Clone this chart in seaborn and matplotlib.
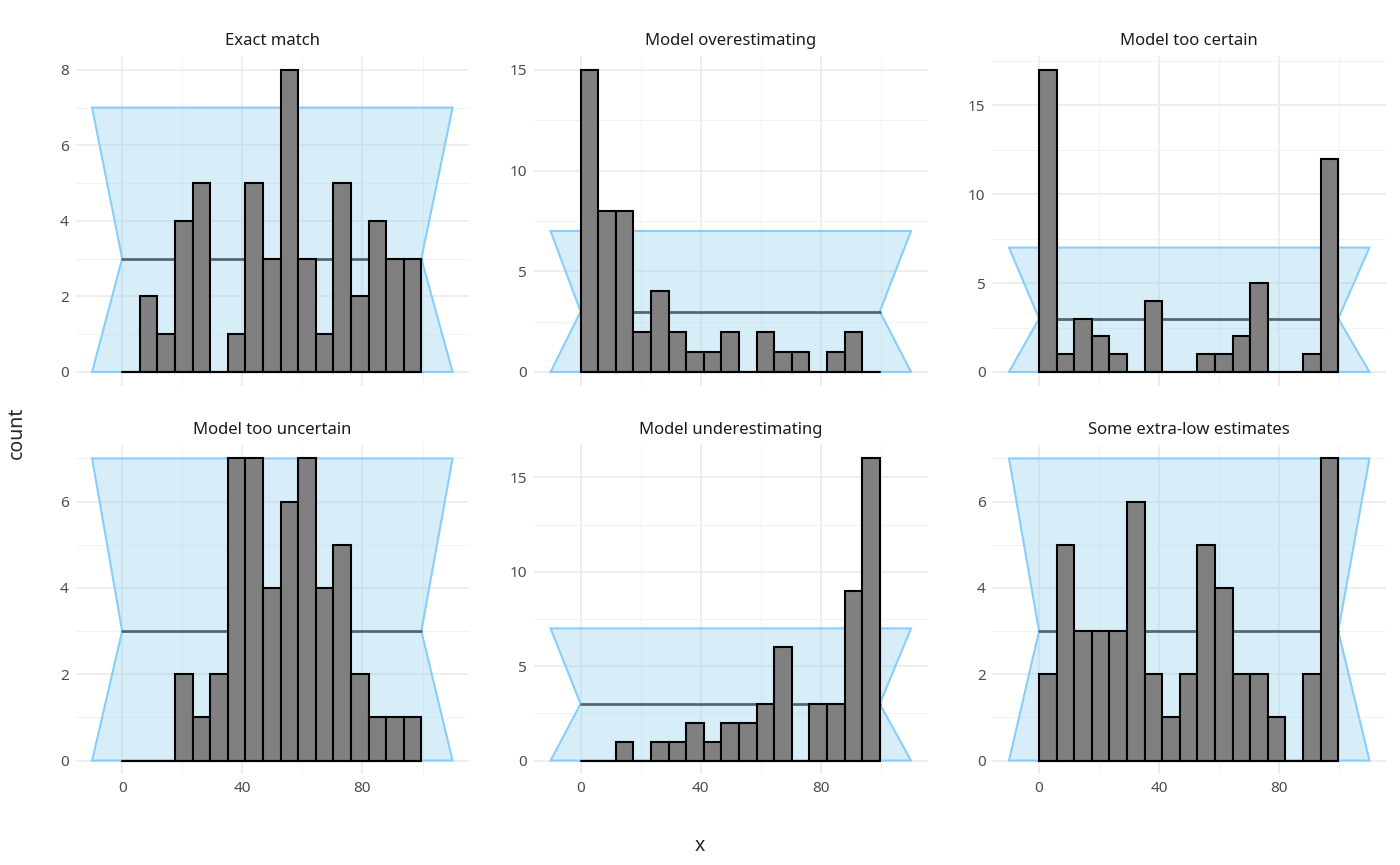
import numpy as np
import pandas as pd
import seaborn as sns
import matplotlib.pyplot as plt
from matplotlib.ticker import MultipleLocator

# counts per rank bin (17 bins over ranks 0..99), 50 simulations each
titles = ["Exact match", "Model overestimating", "Model too certain",
          "Model too uncertain", "Model underestimating", "Some extra-low estimates"]
exact = [0, 2, 1, 4, 5, 0, 1, 5, 3, 8, 3, 1, 5, 2, 4, 3, 3]
over = [15, 8, 8, 2, 4, 2, 1, 1, 2, 0, 2, 1, 1, 0, 1, 2, 0]
certain = [17, 1, 3, 2, 1, 0, 4, 0, 0, 1, 1, 2, 5, 0, 0, 1, 12]
uncertain = [0, 0, 0, 2, 1, 2, 7, 7, 4, 6, 7, 4, 5, 2, 1, 1, 1]
under = [0, 0, 1, 0, 1, 1, 2, 1, 2, 2, 3, 6, 0, 3, 3, 9, 16]
extralow = [2, 5, 3, 3, 3, 6, 2, 1, 2, 5, 4, 2, 2, 1, 0, 2, 7]
all_counts = [exact, over, certain, uncertain, under, extralow]
yticks_step = [2, 5, 5, 2, 5, 2]

# envelope of expected counts
ci_lo, ci_mean, ci_hi = 0, 3, 7
n_bins = 17
rank_max = 99.6
edges = np.linspace(0, rank_max, n_bins + 1)
centers = (edges[:-1] + edges[1:]) / 2

rows = []
for t, c in zip(titles, all_counts):
    for x, w in zip(centers, c):
        rows.append({"panel": t, "x": x, "w": w})
df = pd.DataFrame(rows)

sns.set_theme(style="white")
plt.rcParams['font.family'] = ['Noto Sans', 'DejaVu Sans']

fig, axes = plt.subplots(2, 3, figsize=(14, 8.65), dpi=100, sharex=True)
fig.subplots_adjust(left=0.054, right=0.99, top=0.935, bottom=0.105, wspace=0.165, hspace=0.18)

for ax, t, step in zip(axes.flat, titles, yticks_step):
    # envelope polygon
    px = [-10, 0, -10, 110, rank_max, 110]
    py = [ci_lo, ci_mean, ci_hi, ci_hi, ci_mean, ci_lo]
    ax.fill(px, py, facecolor="#87CEEB", alpha=0.33, edgecolor="none", zorder=1)
    ax.fill(px, py, facecolor="none", edgecolor="#87CEFA", lw=1.5, zorder=1)
    ax.plot([0, rank_max], [ci_mean, ci_mean], color="#536872", lw=2, zorder=1.5)
    sub = df[df.panel == t]
    sns.histplot(data=sub, x="x", weights="w", bins=n_bins, binrange=(0, rank_max), ax=ax,
                 color="#808080", alpha=1, edgecolor="black", linewidth=1.5, zorder=2)
    ax.plot([0, rank_max], [0, 0], color="black", lw=1.5, zorder=2.5)
    ax.set_title(t, fontsize=12, color="#1a1a1a", pad=8)
    ax.set_xlim(-15.5, 115.5)
    top = max(max(sub.w), ci_hi)
    ax.set_ylim(-top * 0.045, top * 1.045)
    ax.xaxis.set_major_locator(MultipleLocator(40))
    ax.xaxis.set_minor_locator(MultipleLocator(20))
    ax.yaxis.set_major_locator(MultipleLocator(step))
    ax.yaxis.set_minor_locator(MultipleLocator(step / 2))
    ax.grid(which="major", color="#EBEBEB", lw=1.2)
    ax.grid(which="minor", color="#F2F2F2", lw=0.7)
    ax.set_axisbelow(True)
    for s in ax.spines.values():
        s.set_visible(False)
    ax.tick_params(axis="both", which="both", length=0, labelsize=11, labelcolor="#4d4d4d", pad=5)
    ax.set_xlabel("")
    ax.set_ylabel("")

fig.supxlabel("x", fontsize=14, y=0.01)
fig.supylabel("count", fontsize=14, x=0.005)
fig.savefig("out.png", dpi=100)
